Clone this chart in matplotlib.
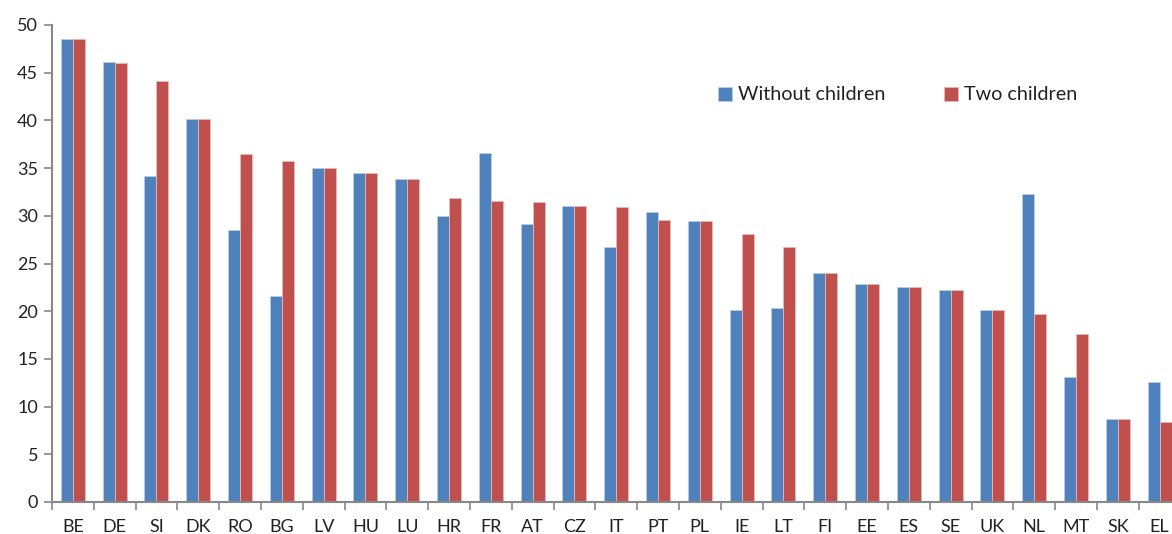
import matplotlib
matplotlib.use("Agg")
import matplotlib.pyplot as plt
import numpy as np

countries = ["BE", "DE", "SI", "DK", "RO", "BG", "LV", "HU", "LU", "HR", "FR", "AT", "CZ",
             "IT", "PT", "PL", "IE", "LT", "FI", "EE", "ES", "SE", "UK", "NL", "MT", "SK", "EL"]
without_children = [48.5, 46.1, 34.2, 40.1, 28.5, 21.6, 35.0, 34.5, 33.9, 30.0, 36.6, 29.1, 31.0,
                    26.7, 30.4, 29.5, 20.1, 20.3, 24.0, 22.9, 22.5, 22.2, 20.1, 32.3, 13.1, 8.7, 12.6]
two_children = [48.5, 46.0, 44.1, 40.1, 36.5, 35.7, 35.0, 34.5, 33.9, 31.9, 31.5, 31.4, 31.0,
                30.9, 29.6, 29.5, 28.1, 26.7, 24.0, 22.9, 22.5, 22.2, 20.1, 19.7, 17.6, 8.7, 8.4]
y_ticks = [0, 5, 10, 15, 20, 25, 30, 35, 40, 45, 50]

plt.rcParams["font.family"] = ["Lato", "DejaVu Sans"]

W, H = 1172, 534
fig = plt.figure(figsize=(W / 100, H / 100), dpi=100)
ax = fig.add_axes([52 / W, 32 / H, (1180.5 - 52) / W, (502 - 25) / H])

x = np.arange(len(countries))
bw = 0.287
blue, red = "#4F81BD", "#C0504D"
ax.bar(x - bw / 2, without_children, width=bw, color=blue, edgecolor="#b9cde5",
       linewidth=0.6, label="Without children")
ax.bar(x + bw / 2, two_children, width=bw, color=red, edgecolor="#e6b9b8",
       linewidth=0.6, label="Two children")

ax.set_xlim(-0.5, len(countries) - 0.5)
ax.set_ylim(0, 50)

axis_grey = "#888888"
for side in ("top", "right"):
    ax.spines[side].set_visible(False)
for side in ("left", "bottom"):
    ax.spines[side].set_color(axis_grey)
    ax.spines[side].set_linewidth(1.5)

ax.set_yticks(y_ticks)
ax.tick_params(axis="y", direction="out", length=6, width=1.2, color=axis_grey,
               labelsize=13, labelcolor="#222222", pad=4)

ax.set_xticks(x)
ax.set_xticklabels(countries)
ax.set_xticks(np.arange(-0.5, len(countries), 1.0), minor=True)
ax.tick_params(axis="x", which="major", length=0, labelsize=13, labelcolor="#222222", pad=12)
ax.tick_params(axis="x", which="minor", direction="out", length=6, width=1.2, color=axis_grey)

ax.legend(loc="center left", bbox_to_anchor=(718 / W, 1 - 95 / H), bbox_transform=fig.transFigure,
          ncol=2, frameon=False, fontsize=14.2, handlelength=0.7, handleheight=0.7,
          handletextpad=0.3, columnspacing=3.0, borderpad=0, borderaxespad=0,
          labelcolor="#222222")

fig.savefig("out.png", dpi=100)
